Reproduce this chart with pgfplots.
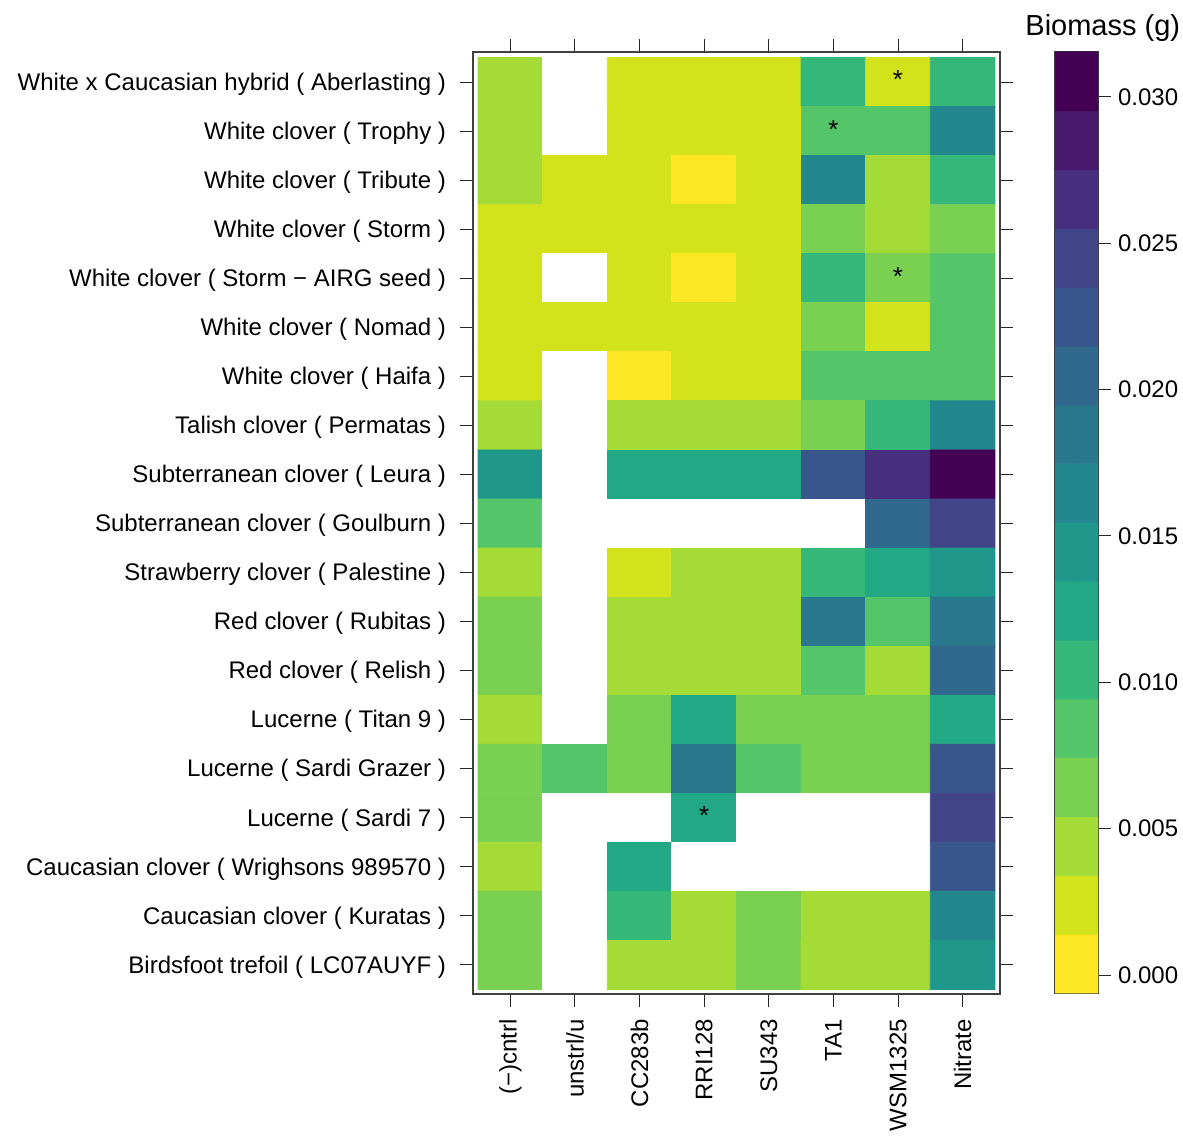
\documentclass[border=0pt]{standalone}
\usepackage{fontspec}
\setmainfont{Liberation Sans}
\usepackage{pgfplots}
\pgfplotsset{compat=1.18}

% viridis(16), reversed (index 0 = lowest biomass), index 16 = missing (white)
\pgfplotsset{
  colormap={biomass}{rgb255=(253,231,37) rgb255=(210,226,27) rgb255=(165,219,54)
    rgb255=(122,209,81) rgb255=(84,197,104) rgb255=(53,183,121) rgb255=(34,168,132)
    rgb255=(31,152,139) rgb255=(35,136,142) rgb255=(42,120,142) rgb255=(49,104,142)
    rgb255=(57,86,140) rgb255=(65,68,135) rgb255=(71,47,125) rgb255=(72,26,108)
    rgb255=(68,1,84) rgb255=(255,255,255)},
  every axis/.append style={
    axis line style={draw=black!75, line width=0.6pt},
    tick style={draw=black!85, line width=0.5pt},
    tick align=outside, major tick length=6.5pt,
    tick label style={font=\fontsize{12}{14}\selectfont},
  },
}

\begin{document}
\begin{tikzpicture}
\useasboundingbox (-236.5pt,-70.5pt) rectangle (355pt,497pt);

\begin{axis}[
  name=main, at={(0,0)}, anchor=south west,
  scale only axis, width=263.5pt, height=471pt,
  xmin=-0.578, xmax=7.578, ymin=-0.612, ymax=18.592, y dir=reverse,
  xtick={0,...,7}, ytick={0,...,18},
  xtick pos=both, ytick pos=both, xticklabel pos=left, yticklabel pos=left,
  xticklabels={(−)cntrl, unstrl/u, CC283b, RRI128, SU343, TA1, WSM1325, Nitrate},
  yticklabels={
    White x Caucasian hybrid ( Aberlasting ),
    White clover ( Trophy ),
    White clover ( Tribute ),
    White clover ( Storm ),
    White clover ( Storm − AIRG seed ),
    White clover ( Nomad ),
    White clover ( Haifa ),
    Talish clover ( Permatas ),
    Subterranean clover ( Leura ),
    Subterranean clover ( Goulburn ),
    Strawberry clover ( Palestine ),
    Red clover ( Rubitas ),
    Red clover ( Relish ),
    Lucerne ( Titan 9 ),
    Lucerne ( Sardi Grazer ),
    Lucerne ( Sardi 7 ),
    Caucasian clover ( Wrighsons 989570 ),
    Caucasian clover ( Kuratas ),
    Birdsfoot trefoil ( LC07AUYF )},
  x tick label style={rotate=90, anchor=east, xshift=-2.5pt},
  y tick label style={xshift=-3.5pt, yshift=-1pt},
  colormap name=biomass, colormap access=direct,
]
\addplot[matrix plot*, mesh/cols=8, point meta=explicit] table[row sep=\\, meta=c]{
x y c\\
0 0 2\\ 1 0 16\\ 2 0 1\\ 3 0 1\\ 4 0 1\\ 5 0 5\\ 6 0 1\\ 7 0 5\\
0 1 2\\ 1 1 16\\ 2 1 1\\ 3 1 1\\ 4 1 1\\ 5 1 4\\ 6 1 4\\ 7 1 8\\
0 2 2\\ 1 2 1\\ 2 2 1\\ 3 2 0\\ 4 2 1\\ 5 2 8\\ 6 2 2\\ 7 2 5\\
0 3 1\\ 1 3 1\\ 2 3 1\\ 3 3 1\\ 4 3 1\\ 5 3 3\\ 6 3 2\\ 7 3 3\\
0 4 1\\ 1 4 16\\ 2 4 1\\ 3 4 0\\ 4 4 1\\ 5 4 5\\ 6 4 3\\ 7 4 4\\
0 5 1\\ 1 5 1\\ 2 5 1\\ 3 5 1\\ 4 5 1\\ 5 5 3\\ 6 5 1\\ 7 5 4\\
0 6 1\\ 1 6 16\\ 2 6 0\\ 3 6 1\\ 4 6 1\\ 5 6 4\\ 6 6 4\\ 7 6 4\\
0 7 2\\ 1 7 16\\ 2 7 2\\ 3 7 2\\ 4 7 2\\ 5 7 3\\ 6 7 5\\ 7 7 8\\
0 8 7\\ 1 8 16\\ 2 8 6\\ 3 8 6\\ 4 8 6\\ 5 8 11\\ 6 8 13\\ 7 8 15\\
0 9 4\\ 1 9 16\\ 2 9 16\\ 3 9 16\\ 4 9 16\\ 5 9 16\\ 6 9 10\\ 7 9 12\\
0 10 2\\ 1 10 16\\ 2 10 1\\ 3 10 2\\ 4 10 2\\ 5 10 5\\ 6 10 6\\ 7 10 7\\
0 11 3\\ 1 11 16\\ 2 11 2\\ 3 11 2\\ 4 11 2\\ 5 11 9\\ 6 11 4\\ 7 11 9\\
0 12 3\\ 1 12 16\\ 2 12 2\\ 3 12 2\\ 4 12 2\\ 5 12 4\\ 6 12 2\\ 7 12 10\\
0 13 2\\ 1 13 16\\ 2 13 3\\ 3 13 6\\ 4 13 3\\ 5 13 3\\ 6 13 3\\ 7 13 6\\
0 14 3\\ 1 14 4\\ 2 14 3\\ 3 14 9\\ 4 14 4\\ 5 14 3\\ 6 14 3\\ 7 14 11\\
0 15 3\\ 1 15 16\\ 2 15 16\\ 3 15 6\\ 4 15 16\\ 5 15 16\\ 6 15 16\\ 7 15 12\\
0 16 2\\ 1 16 16\\ 2 16 6\\ 3 16 16\\ 4 16 16\\ 5 16 16\\ 6 16 16\\ 7 16 11\\
0 17 3\\ 1 17 16\\ 2 17 5\\ 3 17 2\\ 4 17 3\\ 5 17 2\\ 6 17 2\\ 7 17 8\\
0 18 3\\ 1 18 16\\ 2 18 2\\ 3 18 2\\ 4 18 3\\ 5 18 2\\ 6 18 2\\ 7 18 7\\
};
% significance stars
\addplot[draw=none, mark=none, nodes near coords={*},
  every node near coord/.style={anchor=center, inner sep=0pt, yshift=1pt,
    font=\fontsize{13}{15}\selectfont}]
  coordinates {(6,0) (5,1) (6,4) (3,15)};
\end{axis}

\begin{axis}[
  name=cbar, at={(291pt,0.5pt)}, anchor=south west,
  scale only axis, width=21.5pt, height=470.5pt,
  xmin=0, xmax=1, ymin=-0.000615, ymax=0.031538,
  xtick=\empty, ytick={0,0.005,0.01,0.015,0.02,0.025,0.03},
  ytick pos=right, yticklabel pos=right,
  scaled y ticks=false,
  yticklabel style={/pgf/number format/.cd, fixed, fixed zerofill, precision=3},
  /pgf/number format/assume math mode=true,
  colormap name=biomass, colormap access=direct,
]
\addplot[matrix plot*, mesh/cols=2, point meta=explicit] table[row sep=\\, meta=c]{
x y c\\
0.25 0.000390 0\\ 0.75 0.000390 0\\
0.25 0.002399 1\\ 0.75 0.002399 1\\
0.25 0.004409 2\\ 0.75 0.004409 2\\
0.25 0.006419 3\\ 0.75 0.006419 3\\
0.25 0.008428 4\\ 0.75 0.008428 4\\
0.25 0.010438 5\\ 0.75 0.010438 5\\
0.25 0.012448 6\\ 0.75 0.012448 6\\
0.25 0.014457 7\\ 0.75 0.014457 7\\
0.25 0.016467 8\\ 0.75 0.016467 8\\
0.25 0.018476 9\\ 0.75 0.018476 9\\
0.25 0.020486 10\\ 0.75 0.020486 10\\
0.25 0.022496 11\\ 0.75 0.022496 11\\
0.25 0.024505 12\\ 0.75 0.024505 12\\
0.25 0.026515 13\\ 0.75 0.026515 13\\
0.25 0.028524 14\\ 0.75 0.028524 14\\
0.25 0.030534 15\\ 0.75 0.030534 15\\
};
\end{axis}
\node[anchor=base west, inner sep=0pt, font=\fontsize{14.5}{17}\selectfont]
  at ([xshift=-15pt, yshift=8pt]cbar.north west) {Biomass (g)};
\end{tikzpicture}
\end{document}
